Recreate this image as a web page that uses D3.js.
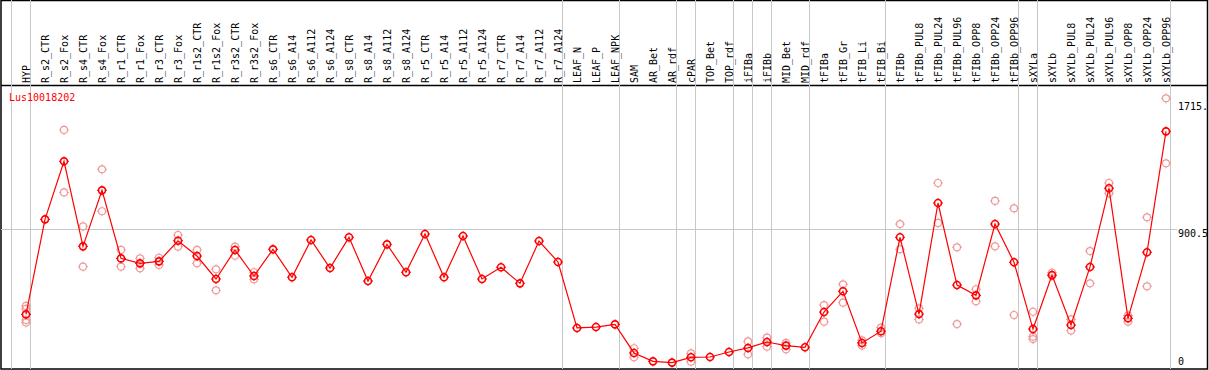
<!DOCTYPE html>
<html>
<head>
<meta charset="UTF-8">
<script src="https://cdnjs.cloudflare.com/ajax/libs/d3/7.8.5/d3.min.js"></script>
<style>
  body { margin: 0; background: #fff; }
  svg text { font-family: "DejaVu Sans Mono", monospace; font-size: 10px; }
</style>
</head>
<body>
<script>
// sample columns
var samples = ["HYP", "R_s2_CTR", "R_s2_Fox", "R_s4_CTR", "R_s4_Fox", "R_r1_CTR", "R_r1_Fox",
  "R_r3_CTR", "R_r3_Fox", "R_r1s2_CTR", "R_r1s2_Fox", "R_r3s2_CTR", "R_r3s2_Fox",
  "R_s6_CTR", "R_s6_A14", "R_s6_A112", "R_s6_A124", "R_s8_CTR", "R_s8_A14", "R_s8_A112", "R_s8_A124",
  "R_r5_CTR", "R_r5_A14", "R_r5_A112", "R_r5_A124", "R_r7_CTR", "R_r7_A14", "R_r7_A112", "R_r7_A124",
  "LEAF_N", "LEAF_P", "LEAF_NPK", "SAM", "AR_Bet", "AR_rdf", "cPAR", "TOP_Bet", "TOP_rdf",
  "iFIBa", "iFIBb", "MID_Bet", "MID_rdf", "tFIBa", "tFIB_Gr", "tFIB_Li", "tFIB_Bi",
  "tFIBb", "tFIBb_PUL8", "tFIBb_PUL24", "tFIBb_PUL96", "tFIBb_OPP8", "tFIBb_OPP24", "tFIBb_OPP96",
  "sXYLa", "sXYLb", "sXYLb_PUL8", "sXYLb_PUL24", "sXYLb_PUL96", "sXYLb_OPP8", "sXYLb_OPP24", "sXYLb_OPP96"];

// mean expression per column
var means = [350, 959, 1331, 786, 1145, 709, 677, 690, 822, 724, 577, 763, 596,
  767, 588, 827, 647, 844, 564, 799, 620, 865, 588, 852, 577, 652, 549, 820, 686,
  263, 269, 286, 103, 49, 41, 75, 77, 109, 135, 173, 150, 139,
  365, 498, 167, 242, 844, 352, 1064, 538, 472, 929, 684,
  256, 602, 282, 654, 1158, 325, 748, 1523];

// replicate values per column
var replicates = [[404, 385, 314, 298], [], [1532, 1132], [914, 656], [1280, 1011], [763, 656],
  [709, 645], [713, 667], [859, 784], [763, 677], [639, 504], [784, 726], [620, 575],
  [], [], [], [], [], [], [], [], [], [], [], [], [], [], [], [],
  [], [], [], [133, 75], [], [], [100, 47], [], [], [177, 94], [201, 143], [167, 126], [],
  [410, 303], [543, 425], [184, 150], [265, 229], [929, 767], [389, 318], [1192, 936],
  [780, 288], [511, 434], [1077, 786], [1030, 346],
  [367, 207, 192], [617, 596], [318, 246], [756, 549], [1192, 1126], [342, 303], [972, 530], [1735, 1318]];

// gray separators drawn after these column indices
var groupEnds = [-1, 0, 28, 31, 34, 35, 37, 38, 39, 41, 45, 52, 53, 60];

var yTickValues = [0, 900.5, 1715];
var yTickLabels = ["0", "900.5", "1715."];
var geneName = "Lus10018202";

var width = 1209, height = 370;
var headerBottom = 85, plotBottom = 369, plotRight = 1177;

var x = d3.scaleLinear().domain([0, samples.length - 1]).range([26, 1166]);
var y = d3.scaleLinear().domain([0, 1801]).range([plotBottom, 88]);

var svg = d3.select("body").append("svg")
  .attr("width", width)
  .attr("height", height);

// frame
svg.append("rect")
  .attr("x", 1).attr("y", 0.5)
  .attr("width", 1206.5).attr("height", 368.5)
  .attr("fill", "none").attr("stroke", "#000").attr("stroke-width", 1.5);

svg.append("line")
  .attr("x1", 1).attr("x2", 1208)
  .attr("y1", headerBottom + 0.5).attr("y2", headerBottom + 0.5)
  .attr("stroke", "#000").attr("stroke-width", 1.5);

// horizontal mid line
svg.append("line")
  .attr("x1", 1).attr("x2", plotRight)
  .attr("y1", Math.round(y(900.5)) + 0.5).attr("y2", Math.round(y(900.5)) + 0.5)
  .attr("stroke", "#c8c8c8");

// group separators
svg.selectAll(".sep").data(groupEnds).enter().append("line")
  .attr("class", "sep")
  .attr("x1", function(d) { return Math.round(x(d) + 4) + 0.5; })
  .attr("x2", function(d) { return Math.round(x(d) + 4) + 0.5; })
  .attr("y1", 0).attr("y2", plotBottom)
  .attr("stroke", "#c8c8c8");

// column headers
svg.selectAll(".hdr").data(samples).enter().append("text")
  .attr("class", "hdr")
  .attr("transform", function(d, i) { return "translate(" + (x(i) + 4) + "," + (headerBottom - 2) + ") rotate(-90)"; })
  .attr("fill", "#000")
  .text(function(d) { return d; });

// y labels
svg.selectAll(".ylab").data(yTickValues).enter().append("text")
  .attr("class", "ylab")
  .attr("x", 1178)
  .attr("y", function(d) { return Math.min(y(d) + 8.5, 365); })
  .attr("fill", "#000")
  .text(function(d, i) { return yTickLabels[i]; });

svg.append("text")
  .attr("x", 9).attr("y", 100.5)
  .attr("fill", "#ff0000")
  .text(geneName);

function marker(g, color, sw) {
  g.append("circle").attr("r", 3.5)
    .attr("fill", "none").attr("stroke", color).attr("stroke-width", sw);
  [[0, -5, 0, -3.5], [0, 3.5, 0, 5], [-5, 0, -3.5, 0], [3.5, 0, 5, 0]].forEach(function(t) {
    g.append("line")
      .attr("x1", t[0]).attr("y1", t[1]).attr("x2", t[2]).attr("y2", t[3])
      .attr("stroke", color).attr("stroke-width", 1);
  });
}

// replicate points
var repData = [];
replicates.forEach(function(arr, i) {
  arr.forEach(function(v) { repData.push({ i: i, v: v }); });
});
svg.selectAll(".rep").data(repData).enter().append("g")
  .attr("class", "rep")
  .attr("transform", function(d) { return "translate(" + x(d.i) + "," + y(d.v) + ")"; })
  .each(function() { marker(d3.select(this), "#ef9a9a", 1.2); });

// mean line
var line = d3.line()
  .x(function(d, i) { return x(i); })
  .y(function(d) { return y(d); });

svg.append("path")
  .datum(means)
  .attr("d", line)
  .attr("fill", "none")
  .attr("stroke", "#ff0000")
  .attr("stroke-width", 1.2);

svg.selectAll(".mean").data(means).enter().append("g")
  .attr("class", "mean")
  .attr("transform", function(d, i) { return "translate(" + x(i) + "," + y(d) + ")"; })
  .each(function() { marker(d3.select(this), "#ff0000", 1.6); });
</script>
</body>
</html>
